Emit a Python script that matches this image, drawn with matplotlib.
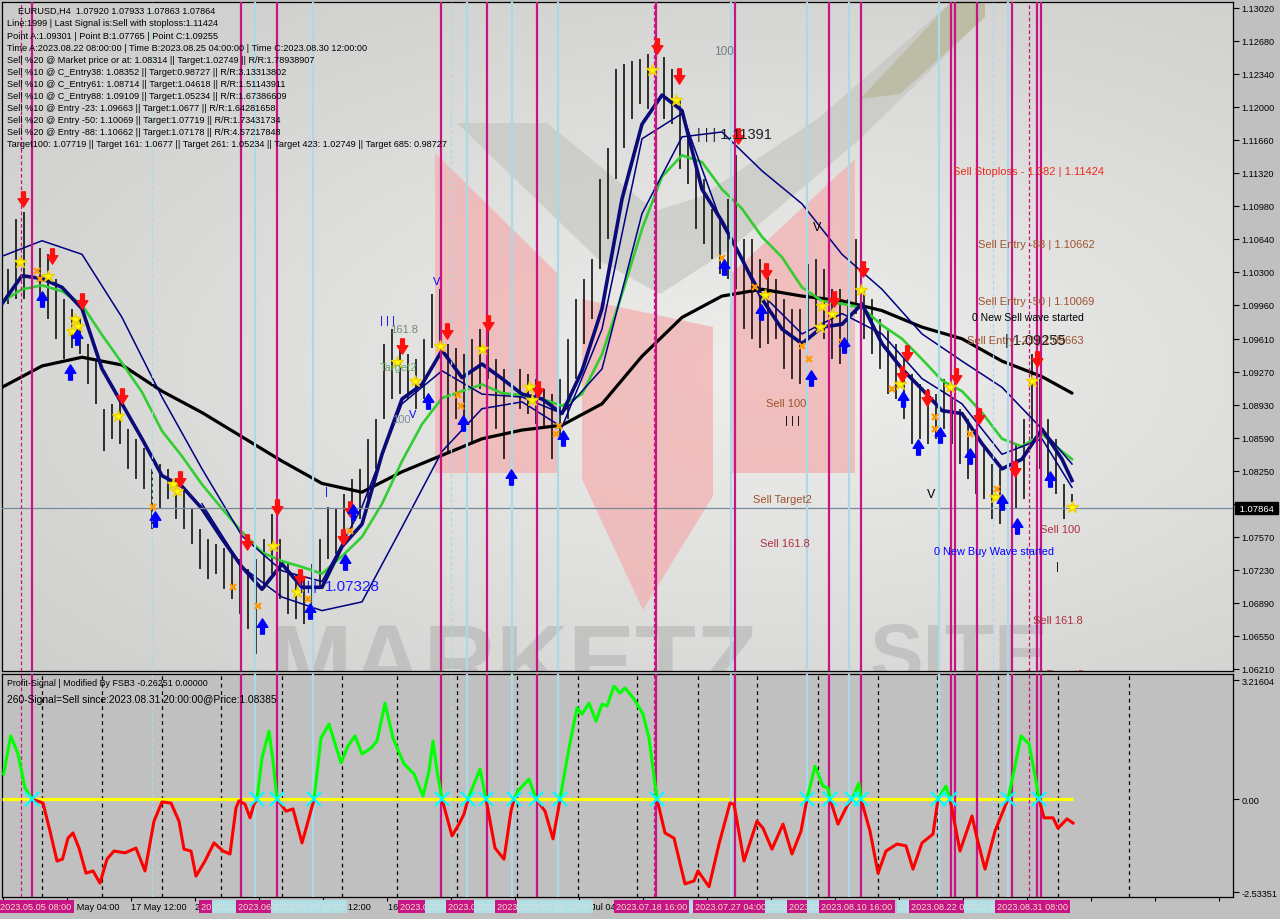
import numpy as np
import matplotlib
matplotlib.use("Agg")
import matplotlib.pyplot as plt
from matplotlib.path import Path
from matplotlib.patches import Polygon
from matplotlib.transforms import blended_transform_factory

plt.rcParams['font.family'] = ['Liberation Sans', 'DejaVu Sans']

# ---------------- EURUSD H4 bars (every 4th bar) ----------------
bar_idx = np.arange(3, 536, 4)
highs = [1.1033, 1.1084, 1.1092, 1.1059, 1.1054, 1.1048, 1.1023, 1.1002, 1.0992, 1.0981,
         1.0956, 1.0940, 1.0889, 1.0894, 1.0899, 1.0868, 1.0858, 1.0848, 1.0827, 1.0832,
         1.0827, 1.0817, 1.0806, 1.0786, 1.0765, 1.0755, 1.0750, 1.0745, 1.0739, 1.0734,
         1.0724, 1.0734, 1.0755, 1.0781, 1.0755, 1.0729, 1.0719, 1.0714, 1.0729, 1.0755,
         1.0788, 1.0786, 1.0801, 1.0817, 1.0827, 1.0858, 1.0878, 1.0956, 1.0971, 1.0951,
         1.0945, 1.0940, 1.0961, 1.1007, 1.1012, 1.0956, 1.0951, 1.0945, 1.0961, 1.0971,
         1.0981, 1.0940, 1.0930, 1.0925, 1.0930, 1.0925, 1.0920, 1.0909, 1.0904, 1.0920,
         1.0961, 1.1002, 1.1023, 1.1043, 1.1126, 1.1157, 1.1239, 1.1244, 1.1247, 1.1249,
         1.1254, 1.1272, 1.1251, 1.1239, 1.1208, 1.1177, 1.1146, 1.1126, 1.1095, 1.1084,
         1.1105, 1.1150, 1.1064, 1.1064, 1.1043, 1.1033, 1.1023, 1.1002, 1.0992, 1.0992,
         1.1038, 1.1043, 1.1033, 1.1012, 1.1012, 1.1002, 1.1064, 1.1012, 1.1002, 1.0981,
         1.0971, 1.0956, 1.0940, 1.0925, 1.0914, 1.0909, 1.0904, 1.0920, 1.0899, 1.0889,
         1.0878, 1.0868, 1.0848, 1.0832, 1.0827, 1.0817, 1.0853, 1.0878, 1.0945, 1.0920,
         1.0878, 1.0858, 1.0811, 1.0801]
lows = [1.0997, 1.1002, 1.1002, 1.0992, 1.1002, 1.0981, 1.0961, 1.0940, 1.0951, 1.0945,
        1.0914, 1.0894, 1.0845, 1.0858, 1.0853, 1.0827, 1.0817, 1.0806, 1.0765, 1.0786,
        1.0796, 1.0775, 1.0765, 1.0750, 1.0724, 1.0714, 1.0719, 1.0703, 1.0693, 1.0678,
        1.0662, 1.0636, 1.0703, 1.0719, 1.0693, 1.0678, 1.0672, 1.0667, 1.0678, 1.0703,
        1.0734, 1.0739, 1.0755, 1.0765, 1.0775, 1.0796, 1.0827, 1.0878, 1.0899, 1.0904,
        1.0899, 1.0889, 1.0899, 1.0951, 1.0956, 1.0842, 1.0878, 1.0878, 1.0853, 1.0909,
        1.0920, 1.0868, 1.0837, 1.0868, 1.0889, 1.0884, 1.0873, 1.0868, 1.0837, 1.0858,
        1.0878, 1.0920, 1.0956, 1.0981, 1.1033, 1.1064, 1.1126, 1.1157, 1.1187, 1.1203,
        1.1198, 1.1218, 1.1187, 1.1182, 1.1136, 1.1120, 1.1074, 1.1059, 1.1043, 1.1028,
        1.1023, 1.1012, 1.0971, 1.0961, 1.0951, 1.0956, 1.0961, 1.0930, 1.0920, 1.0914,
        1.0961, 1.0971, 1.0961, 1.0940, 1.0935, 1.0951, 1.0987, 1.0961, 1.0945, 1.0930,
        1.0904, 1.0899, 1.0878, 1.0853, 1.0858, 1.0853, 1.0858, 1.0868, 1.0853, 1.0832,
        1.0817, 1.0801, 1.0796, 1.0775, 1.0770, 1.0770, 1.0786, 1.0796, 1.0858, 1.0827,
        1.0817, 1.0801, 1.0775, 1.0793]
last_price = 1.07864

# ---------------- moving averages ----------------
fast_idx = list(range(0, 531, 10)) + [535]
ma_navy = [1.0997, 1.1026, 1.1023, 1.1014, 1.0992, 1.0930, 1.0894, 1.0858, 1.0820, 1.0809,
           1.0786, 1.0755, 1.0726, 1.0703, 1.0729, 1.0705, 1.0705, 1.0747, 1.0770, 1.0842,
           1.0899, 1.0914, 1.0949, 1.0921, 1.0935, 1.0920, 1.0904, 1.0899, 1.0884, 1.0928,
           1.0992, 1.1105, 1.1182, 1.1212, 1.1196, 1.1115, 1.1082, 1.1043, 1.1002, 1.0971,
           1.0956, 1.0973, 1.0976, 1.0997, 1.0956, 1.0930, 1.0909, 1.0887, 1.0884, 1.0853,
           1.0827, 1.0837, 1.0868, 1.0837, 1.0815]
ma_green = [1.0999, 1.1012, 1.1016, 1.1010, 1.0996, 1.0965, 1.0936, 1.0906, 1.0866, 1.0840,
            1.0811, 1.0786, 1.0762, 1.0741, 1.0732, 1.0726, 1.0719, 1.0737, 1.0757, 1.0791,
            1.0835, 1.0873, 1.0900, 1.0907, 1.0914, 1.0905, 1.0903, 1.0899, 1.0892, 1.0904,
            1.0945, 1.1007, 1.1074, 1.1128, 1.1150, 1.1143, 1.1115, 1.1095, 1.1066, 1.1045,
            1.1014, 1.1000, 1.0997, 1.0993, 1.0975, 1.0961, 1.0940, 1.0918, 1.0907, 1.0885,
            1.0858, 1.0850, 1.0863, 1.0845, 1.0837]
slow_idx = list(range(0, 521, 20)) + [535]
ma_black = [1.0911, 1.0933, 1.0942, 1.0934, 1.0907, 1.0885, 1.0860, 1.0835, 1.0812, 1.0803,
            1.0824, 1.0841, 1.0858, 1.0867, 1.0872, 1.0894, 1.0943, 1.0983, 1.1005, 1.1012,
            1.1005, 1.1000, 1.0990, 1.0973, 1.0961, 1.0938, 1.0922, 1.0905]
band_a = [1.1046, 1.1062, 1.1048, 1.0983, 1.0901, 1.0827, 1.0758, 1.0722, 1.0711, 1.0788,
          1.0894, 1.0928, 1.0904, 1.0901, 1.0884, 1.0930, 1.1090, 1.1169, 1.1174, 1.1134,
          1.1100, 1.1048, 1.1012, 1.0966, 1.0938, 1.0911, 1.0868, 1.0832]
band_b_idx = list(range(100, 521, 20)) + [535]
band_b = [1.0791, 1.0726, 1.0695, 1.0681, 1.0690, 1.0767, 1.0845, 1.0889, 1.0896, 1.0870,
          1.0971, 1.1167, 1.1193, 1.1079, 1.1007, 1.0966, 1.0987, 1.0966, 1.0920, 1.0894,
          1.0842, 1.0858, 1.0808]

# ---------------- signal markers (bar index, price) ----------------
sell_arrows = [(10.5, 1.1105), (25, 1.1046), (40, 1.1000), (60, 1.0902), (89, 1.0817),
               (122.5, 1.0752), (137.5, 1.0788), (149, 1.0716), (170.5, 1.0757), (174, 1.0786),
               (200, 1.0954), (222.5, 1.0969), (243, 1.0977), (268, 1.0909), (327.5, 1.1263),
               (338.5, 1.1232), (368, 1.1170), (382, 1.1031), (416, 1.1002), (430.5, 1.1033),
               (450, 1.0925), (452.5, 1.0946), (462.5, 1.0900), (477, 1.0923), (488.5, 1.0881),
               (506.5, 1.0827), (517.5, 1.0940)]
buy_arrows = [(20, 1.1002), (34, 1.0927), (37.5, 1.0963), (76.5, 1.0775), (130, 1.0665),
              (154, 1.0681), (171.5, 1.0731), (175.5, 1.0783), (213, 1.0897), (230.5, 1.0874),
              (254.5, 1.0819), (280.5, 1.0859), (361, 1.1035), (379.5, 1.0989), (404.5, 1.0921),
              (421, 1.0955), (450.5, 1.0899), (458, 1.0850), (469, 1.0862), (484, 1.0840),
              (500, 1.0793), (507.5, 1.0768), (524, 1.0817)]
stars = [(9, 1.1040), (23, 1.1026), (36.5, 1.0981), (38, 1.0974), (35, 1.0969), (58, 1.0881),
         (85.5, 1.0811), (87.5, 1.0804), (135.5, 1.0748), (147.5, 1.0700), (197.5, 1.0937),
         (206.5, 1.0918), (219, 1.0954), (240, 1.0950), (263.5, 1.0911), (265, 1.0898),
         (325, 1.1238), (337, 1.1207), (381.5, 1.1006), (410, 1.0995), (415, 1.0987),
         (409, 1.0973), (429.5, 1.1011), (449, 1.0914), (474, 1.0911), (496.5, 1.0798),
         (515, 1.0918), (535, 1.0788)]
crosses = [(17.5, 1.1031), (19, 1.1023), (75.5, 1.0788), (115.5, 1.0705), (128, 1.0686),
           (153, 1.0693), (174, 1.0763), (228, 1.0903), (229.5, 1.0892), (277, 1.0863),
           (278.5, 1.0871), (360, 1.1044), (376.5, 1.1014), (400, 1.0954), (403.5, 1.0940),
           (420, 1.0958), (445, 1.0909), (466.5, 1.0880), (466.5, 1.0868), (484, 1.0863),
           (497.5, 1.0806)]

# vertical signal lines (bar index)
sell_lines = [15, 119.5, 137.5, 219.5, 242.5, 267.5, 327, 366.5, 413.5, 429.5,
              474.5, 476.5, 487.5, 505, 517.5, 519.5]
sell_dash = [9.5, 326, 513.5]
buy_lines = [126.5, 155.5, 232.5, 255, 278, 364.5, 402.5, 423.5, 468.5, 503]
buy_dash = [75, 224.5, 495.5]
week_sep = [20, 50, 80, 109.5, 140, 170, 197.5, 227.5, 257.5, 288, 317.5, 348, 377.5,
            408, 438, 467.5, 498, 528, 563.5]

price_ticks = [1.13020, 1.12680, 1.12340, 1.12000, 1.11660, 1.11320, 1.10980, 1.10640,
               1.10300, 1.09960, 1.09610, 1.09270, 1.08930, 1.08590, 1.08250, 1.07910,
               1.07570, 1.07230, 1.06890, 1.06550, 1.06210]

# ---------------- Profit-Signal oscillator ----------------
osc_idx = [0.8, 4.35, 8, 11.5, 15, 20.5, 24, 27.5, 30.25, 33, 35.5, 38.5, 42, 45.5, 49, 52.5,
           56, 61.5, 67, 71.5, 76, 80, 84.5, 88.5, 91, 94.5, 97, 101.5, 106, 110.5, 114, 117,
           118.5, 121.5, 124, 126, 127.5, 130, 133.5, 135.5, 137.5, 142, 145.5, 150, 153.5, 156,
           159.5, 163.5, 169.5, 173, 176.5, 180, 184.5, 187.5, 191.5, 195.5, 201, 206, 210.5,
           213.5, 215.5, 217.5, 220, 225, 228.5, 231, 233, 239, 242, 246.5, 251, 254.5, 256,
           258, 263.5, 267, 271.5, 275.5, 278, 279, 283.5, 287.5, 290, 293.5, 297, 300, 302.5,
           306, 309, 311.5, 316, 320.5, 323.5, 327.5, 331.5, 336, 341.5, 346, 348, 353.5, 358.5,
           364, 366, 371, 377.5, 380.5, 385, 390.5, 395, 399.5, 402.5, 406.5, 410.5, 413, 414,
           418, 423, 425, 428.5, 429.5, 434, 438, 442, 447.5, 452, 455.5, 460, 465.5, 468, 472,
           474, 479, 485, 487.5, 491.5, 496.5, 503, 506, 509.5, 513.5, 517, 518.5, 521, 525.5,
           528, 532.5, 535.5]
osc_val = [0.68, 1.71, 1.22, 0.30, 0.0, -0.11, -0.87, -1.68, -1.63, -1.06, -0.92, -1.33, -2.01,
           -1.95, -2.28, -1.63, -1.41, -1.46, -1.33, -1.95, -0.60, -0.08, -0.11, -0.60, -1.36,
           -1.41, -2.09, -1.68, -1.19, -1.41, -1.49, -0.24, -0.05, -0.14, -0.51, -0.14, 0.0,
           1.11, 1.84, 1.03, 0.0, -0.33, -0.27, -1.19, -0.51, 0.0, 1.65, 2.03, 0.98, 1.44, 1.71,
           1.22, 1.38, 1.57, 2.60, 1.65, 0.95, 0.68, 0.08, 0.76, 1.57, 0.76, 0.0, -1.00, -0.68,
           -0.41, 0.0, 0.81, 0.0, -1.33, -1.63, -0.33, 0.0, 0.22, 0.54, 0.0, -0.33, -1.08, -0.33,
           0.0, 1.38, 2.47, 2.30, 2.60, 2.11, 2.57, 2.52, 3.06, 2.87, 3.01, 2.71, 2.30, 1.65, 0.0,
           -0.92, -1.06, -2.30, -2.22, -1.95, -2.38, -1.22, -0.11, -0.14, -1.68, -0.60, -0.79,
           -1.36, -0.68, -1.49, -0.87, 0.0, 0.89, 0.35, 0.30, 0.0, -0.68, -0.14, 0.0, 0.43, 0.0,
           -0.87, -2.01, -1.41, -1.22, -1.27, -1.90, -1.19, -0.95, 0.0, 0.35, 0.0, -1.41, -0.46,
           -1.06, -1.90, -0.87, 0.0, 0.76, 1.71, 1.49, 0.49, 0.0, -0.51, -0.51, -0.79, -0.54,
           -0.65]

info_lines = [
    "Line:1999 | Last Signal is:Sell with stoploss:1.11424",
    "Point A:1.09301 | Point B:1.07765 | Point C:1.09255",
    "Time A:2023.08.22 08:00:00 | Time B:2023.08.25 04:00:00 | Time C:2023.08.30 12:00:00",
    "Sell %20 @ Market price or at: 1.08314 || Target:1.02749 || R/R:1.78938907",
    "Sell %10 @ C_Entry38: 1.08352 || Target:0.98727 || R/R:3.13313802",
    "Sell %10 @ C_Entry61: 1.08714 || Target:1.04618 || R/R:1.51143911",
    "Sell %10 @ C_Entry88: 1.09109 || Target:1.05234 || R/R:1.67386609",
    "Sell %10 @ Entry -23: 1.09663 || Target:1.0677 || R/R:1.64281658",
    "Sell %20 @ Entry -50: 1.10069 || Target:1.07719 || R/R:1.73431734",
    "Sell %20 @ Entry -88: 1.10662 || Target:1.07178 || R/R:4.57217848",
    "Target100: 1.07719 || Target 161: 1.0677 || Target 261: 1.05234 || Target 423: 1.02749 || Target 685: 0.98727",
]

notes = [
    (361, 1.1257, "100", '#6f7f7f', 8.5, 'center'),
    (347.5, 1.1172, "| | | 1.11391", '#202020', 10.5, 'left'),
    (407.5, 1.1076, "V", 'black', 9, 'center'),
    (475.5, 1.1134, "Sell Stoploss - 1.382 | 1.11424", '#ee2a1a', 8, 'left'),
    (488, 1.1059, "Sell Entry -88 | 1.10662", '#a0522d', 8, 'left'),
    (488, 1.1000, "Sell Entry -50 | 1.10069", '#a0522d', 8, 'left'),
    (485, 1.0983, "0 New Sell wave started", 'black', 7.5, 'left'),
    (482.5, 1.0960, "Sell Entry -23 | 1.09663", '#a0522d', 8, 'left'),
    (501.5, 1.0960, "| 1.09255", '#202020', 10.5, 'left'),
    (382, 1.0895, "Sell 100", '#a0522d', 8, 'left'),
    (391.5, 1.0877, "| | |", 'black', 8, 'left'),
    (375.5, 1.0796, "Sell Target2", '#a0522d', 8, 'left'),
    (379, 1.0751, "Sell 161.8", '#b03040', 8, 'left'),
    (464.5, 1.0801, "V", 'black', 9, 'center'),
    (466, 1.0742, "0 New Buy Wave started", '#0000ff', 7.8, 'left'),
    (519, 1.0765, "Sell 100", '#b03040', 8, 'left'),
    (527, 1.0727, "|", 'black', 8, 'left'),
    (515.5, 1.0671, "Sell 161.8", '#b03040', 8, 'left'),
    (511.5, 1.0616, "Sell Target2", '#b03040', 8, 'left'),
    (189, 1.0980, "| | |", '#0000ff', 8, 'left'),
    (194, 1.0971, "161.8", '#708878', 8, 'left'),
    (189, 1.0932, "Target2", '#6aa86a', 8, 'left'),
    (195, 1.0878, "100", '#7890a0', 8, 'left'),
    (205.5, 1.0884, "V", '#0000ff', 8, 'center'),
    (217.5, 1.1021, "V", '#0000ff', 8, 'center'),
    (149, 1.0706, "| | |", '#0000ff', 9, 'left'),
    (161.5, 1.0706, "1.07328", '#1a1aff', 11, 'left'),
    (161.5, 1.0804, "|", '#0000ff', 8, 'left'),
]

date_boxes = [(-1, "2023.05.05 08:00", 's'), (99.5, "2023.05.30 20:00", 's'),
              (106, "2023.06.01 08:00", 'b'), (118, "2023.06.05 04:00", 's'),
              (135.5, "2023.06.07 16:00", 'b'), (199, "2023.06.20 08:00", 's'),
              (212.5, "2023.06.22 16:00", 'b'), (223, "2023.06.26 00:00", 's'),
              (237, "2023.06.28 12:00", 'b'), (247.5, "2023.06.30 08:00", 's'),
              (258.5, "2023.07.06 12:00", 'b'), (307, "2023.07.18 16:00", 's'),
              (344.5, "2023.07.27 00:00", 'b'), (346.5, "2023.07.27 04:00", 's'),
              (382.5, "2023.08.03 08:00", 'b'), (393.5, "2023.08.04 16:00", 's'),
              (403.5, "2023.08.08 04:00", 'b'), (409.5, "2023.08.10 16:00", 's'),
              (448.5, "2023.08.17 20:00", 'b'), (454.5, "2023.08.22 08:00", 's'),
              (482, "2023.08.25 04:00", 'b'), (497.5, "2023.08.31 08:00", 's')]
plain_dates = [(31, "10 May 04:00"), (64.5, "17 May 12:00"), (96.5, "24 May 20:00"),
               (160.5, "7 Jun 12:00"), (193, "16 Jun 20:00"), (288.5, "11 Jul 04:00")]

MAG = '#c71585'
LBLUE = '#add8e6'

fig = plt.figure(figsize=(12.8, 9.2), dpi=100, facecolor='#c0c0c0')
ax = fig.add_axes([2/1280, 1-672/920, 1231/1280, 669/920])
ax2 = fig.add_axes([2/1280, 1-898/920, 1231/1280, 223/920])

def pxa(x, y):
    # pixel of the picture -> axes fraction of the main panel (decoration only)
    return ((x - 2) / 1231, (672 - y) / 669)

# background gradient + logo watermark
gx, gy = np.meshgrid(np.linspace(0, 1, 300), np.linspace(0, 1, 200))
r = np.sqrt((gx - 0.62)**2 + ((gy - 0.45) / 0.9)**2)
shade = np.clip(0.935 - 0.16 * r, 0.78, 0.94)
ax.imshow(np.dstack([shade, shade, shade * 0.995]), extent=(0, 1, 0, 1), origin='lower',
          transform=ax.transAxes, aspect='auto', zorder=0)
ax.add_patch(Polygon([pxa(*p) for p in [(457, 124), (547, 124), (655, 212), (700, 198), (820, 118),
                                        (950, 4), (985, 4), (985, 18), (860, 140), (730, 250),
                                        (660, 295), (600, 262)]],
                     closed=True, transform=ax.transAxes, fc='#c2c2bd', ec='none', alpha=0.6, zorder=0.5))
ax.add_patch(Polygon([pxa(*p) for p in [(860, 100), (950, 4), (985, 4), (985, 18), (900, 95)]],
                     closed=True, transform=ax.transAxes, fc='#b5b592', ec='none', alpha=0.6, zorder=0.6))
for poly in ([(435, 154), (557, 274), (557, 474), (435, 474)],
             [(582, 300), (713, 328), (713, 497), (643, 611), (582, 480)],
             [(732, 274), (855, 160), (855, 474), (732, 474)]):
    ax.add_patch(Polygon([pxa(*p) for p in poly], closed=True, transform=ax.transAxes,
                         fc='#f2b0b0', ec='none', alpha=0.75, zorder=0.7))
ax.text(*pxa(268, 622), "MARKETZ", transform=ax.transAxes, fontsize=72, fontweight='bold',
        color='#a0a0a0', alpha=0.4, va='top', ha='left', clip_on=True, zorder=0.8)
ax.text(*pxa(870, 622), "SITE", transform=ax.transAxes, fontsize=58, fontweight='bold',
        color='#a0a0a0', alpha=0.4, va='top', ha='left', clip_on=True, zorder=0.8)

# vertical signal lines in both panels
for a in (ax, ax2):
    for x in sell_lines:
        a.axvline(x, color=MAG, lw=1.6, zorder=4)
    for x in buy_lines:
        a.axvline(x, color=LBLUE, lw=1.6, zorder=4)
    for x in sell_dash:
        a.axvline(x, color=MAG, lw=0.9, ls=(0, (3, 2)), zorder=4)
    for x in buy_dash:
        a.axvline(x, color=LBLUE, lw=0.9, ls=(0, (3, 2)), zorder=4)

# price bars and averages
ax.vlines(bar_idx, lows, highs, color='black', lw=1.1, zorder=2.5)
ax.plot(slow_idx, ma_black, color='black', lw=2.3, zorder=3, solid_capstyle='round')
ax.plot(fast_idx, ma_green, color='#32cd32', lw=1.9, zorder=3.1)
ax.plot(slow_idx, band_a, color='#000080', lw=1.1, zorder=3.2)
ax.plot(band_b_idx, band_b, color='#000080', lw=1.1, zorder=3.2)
ax.plot(fast_idx, ma_navy, color='#0a0a78', lw=2.6, zorder=3.3)
ax.axhline(last_price, color='#778899', lw=0.9, zorder=3.5)

# arrow markers
down = Path([(-0.25, 1), (0.25, 1), (0.25, 0.1), (0.7, 0.1), (0, -1), (-0.7, 0.1),
             (-0.25, 0.1), (-0.25, 1)], closed=True)
up = Path([(-0.25, -1), (0.25, -1), (0.25, -0.1), (0.7, -0.1), (0, 1), (-0.7, -0.1),
           (-0.25, -0.1), (-0.25, -1)], closed=True)
sx, sy = zip(*sell_arrows)
ax.plot(sx, sy, ls='none', marker=down, ms=11, mfc='#ff1010', mec='#ff1010', zorder=5.5)
bx, by = zip(*buy_arrows)
ax.plot(bx, by, ls='none', marker=up, ms=11, mfc='#0000ff', mec='#0000ff', zorder=5.5)
tx, ty = zip(*stars)
ax.plot(tx, ty, ls='none', marker='*', ms=9, mfc='#ffff00', mec='#f0d000', zorder=5.4)
cx, cy = zip(*crosses)
ax.plot(cx, cy, ls='none', marker='x', ms=5, mew=1.6, color='#ff9900', zorder=5.3)

for x, y, s, c, fs, ha in notes:
    ax.text(x, y, s, color=c, fontsize=fs, ha=ha, va='center', zorder=6, clip_on=True)

ax.text(*pxa(18, 11), "EURUSD,H4  1.07920 1.07933 1.07863 1.07864", transform=ax.transAxes,
        fontsize=6.6, va='center', ha='left', zorder=7)
for i, line in enumerate(info_lines):
    ax.text(*pxa(7, 24 + 12.05 * i), line, transform=ax.transAxes, fontsize=6.6,
            va='center', ha='left', zorder=7)

ax.set_xlim(0, 615.5)
ax.set_ylim(1.06188, 1.13079)
ax.set_xticks([])
ax.yaxis.tick_right()
ax.set_yticks(price_ticks)
ax.set_yticklabels(["%.5f" % p for p in price_ticks])
ax.tick_params(axis='y', length=4, labelsize=6.6, pad=2, width=0.8)
for sp in ax.spines.values():
    sp.set_color('black')
    sp.set_linewidth(0.9)
ax.text(1.003, last_price, " 1.07864 ", transform=blended_transform_factory(ax.transAxes, ax.transData),
        color='white', fontsize=6.8, va='center', ha='left', clip_on=False, zorder=8,
        bbox=dict(boxstyle='square,pad=0.15', fc='black', ec='black'))

# ---------------- lower panel ----------------
ax2.set_facecolor('#c0c0c0')
for x in week_sep:
    ax2.axvline(x, color='black', lw=0.9, ls=(0, (3, 3)), zorder=1)
ax2.hlines(0, 0, 535.5, color='#ffff00', lw=2.3, zorder=3)
v = np.array(osc_val)
ax2.plot(osc_idx, np.where(v >= 0, v, np.nan), color='#00ff00', lw=2.2, zorder=4)
ax2.plot(osc_idx, np.where(v <= 0, v, np.nan), color='#ff0000', lw=2.2, zorder=4)
zx = [i for i, val in zip(osc_idx, osc_val) if val == 0]
ax2.plot(zx, [0] * len(zx), ls='none', marker='x', ms=10, mew=1.6, color='#00ffff', zorder=5)

ax2.text(5/1231, 1 - 9/223, "Profit-Signal | Modified By FSB3 -0.26251 0.00000",
         transform=ax2.transAxes, fontsize=6.4, va='center', ha='left', zorder=7)
ax2.text(5/1231, 1 - 25/223, "260-Signal=Sell since:2023.08.31 20:00:00@Price:1.08385",
         transform=ax2.transAxes, fontsize=7.4, va='center', ha='left', zorder=7)

ax2.set_xlim(0, 615.5)
ax2.set_ylim(-2.656, 3.388)
ax2.yaxis.tick_right()
ax2.set_yticks([3.21604, 0.0, -2.53351])
ax2.set_yticklabels(["3.21604", "0.00", "-2.53351"])
ax2.tick_params(axis='y', length=4, labelsize=6.6, pad=2, width=0.8)
ax2.set_xticks(np.arange(0.5, 615, 32))
ax2.set_xticklabels([])
ax2.tick_params(axis='x', length=3, width=0.8, direction='out')
for sp in ax2.spines.values():
    sp.set_color('black')
    sp.set_linewidth(0.9)

# date labels under the lower panel
trans = blended_transform_factory(ax2.transData, ax2.transAxes)
for x, s in plain_dates:
    ax2.text(x, -0.042, s, transform=trans, fontsize=6.6, va='center', ha='left',
             color='black', clip_on=False, zorder=1)
for k, (x, s, kind) in enumerate(date_boxes):
    fc = MAG if kind == 's' else '#b0e0e6'
    tc = '#f3e2c8' if kind == 's' else '#dcdcdc'
    ax2.text(x, -0.042, s, transform=trans, fontsize=6.6, va='center', ha='left', color=tc,
             clip_on=False, zorder=2 + k,
             bbox=dict(boxstyle='square,pad=0.25', fc=fc, ec='none'))

fig.savefig('out.png', dpi=100, facecolor=fig.get_facecolor())
